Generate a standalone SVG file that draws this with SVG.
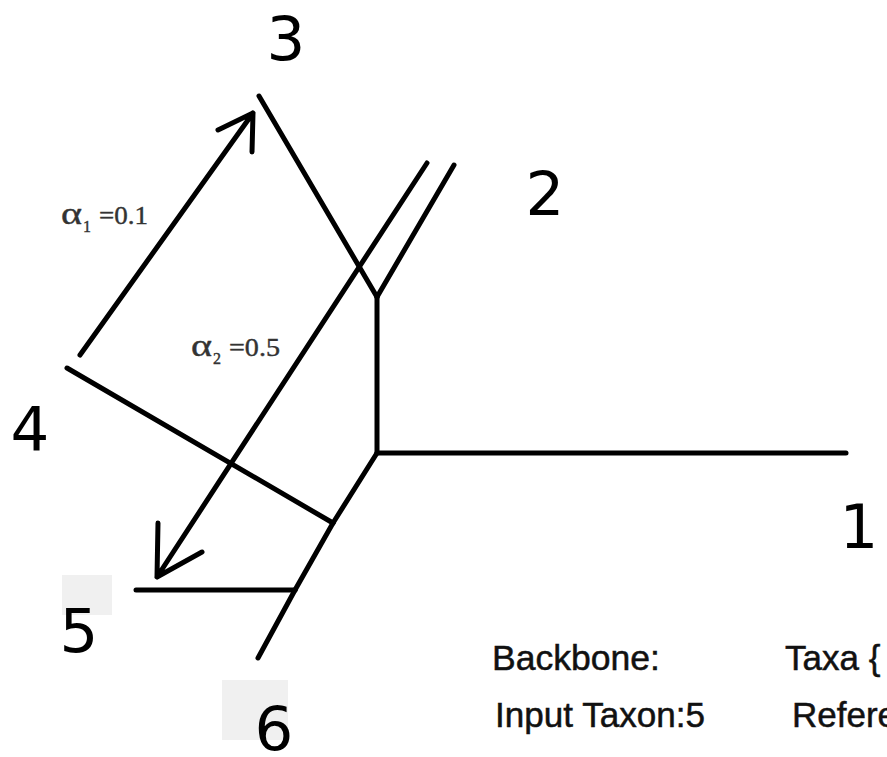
<svg xmlns="http://www.w3.org/2000/svg" width="887" height="757" viewBox="0 0 887 757">
  <style>
    .br { fill: none; stroke: #000; stroke-width: 5; stroke-linecap: round; stroke-linejoin: round; }
    .num { font-family: "DejaVu Sans", "Liberation Sans", sans-serif; font-size: 61px; fill: #000; text-anchor: middle; }
    .alpha { font-family: "Liberation Serif", "DejaVu Serif", serif; font-size: 25px; fill: #333; stroke: #333; stroke-width: 0.4; }
    .greek { font-size: 31px; }
    .sub { font-size: 16px; }
    .info { font-family: "Liberation Sans", Arial, sans-serif; font-size: 35px; fill: #111; stroke: #111; stroke-width: 0.5; }
    .bg { fill: #f0f0f0; }
  </style>
  <rect width="887" height="757" fill="#fff"/>
  <g id="backgrounds">
    <rect class="bg" x="62" y="575" width="50" height="40"/>
    <rect class="bg" x="222" y="680" width="66" height="60"/>
  </g>
  <g id="connectors">
    <path class="br" d="M259,96 L377,297"/>
    <path class="br" d="M454,165 L377,297"/>
    <path class="br" d="M377,297 L377,453"/>
    <path class="br" d="M377,453 L846,453"/>
    <path class="br" d="M377,453 L333,523"/>
    <path class="br" d="M67,368 L333,523"/>
    <path class="br" d="M333,523 L295,590"/>
    <path class="br" d="M136,590 L295,590"/>
    <path class="br" d="M295,590 L258,658"/>
    <path id="arrow1" class="br" d="M80,355 L253,113 M218,130 L253,113 L252,152"/>
    <path id="arrow2" class="br" d="M427,163 L157,577 M158,523 L157,577 L202,552"/>
  </g>
  <g id="node-3"><text class="num" x="286" y="60">3</text></g>
  <g id="node-2"><text class="num" x="545" y="215">2</text></g>
  <g id="node-4"><text class="num" x="30" y="450">4</text></g>
  <g id="node-5"><text class="num" x="79" y="652">5</text></g>
  <g id="node-6"><text class="num" x="274" y="750">6</text></g>
  <g id="node-1"><text class="num" x="859" y="548">1</text></g>
  <g id="label-alpha1"><text class="alpha" x="61" y="224"><tspan class="greek" textLength="21" lengthAdjust="spacingAndGlyphs">α</tspan><tspan class="sub" x="83" y="232">1</tspan><tspan x="99" y="224" textLength="49" lengthAdjust="spacingAndGlyphs">=0.1</tspan></text></g>
  <g id="label-alpha2"><text class="alpha" x="191" y="356"><tspan class="greek" textLength="21" lengthAdjust="spacingAndGlyphs">α</tspan><tspan class="sub" x="213" y="364">2</tspan><tspan x="229" y="356" textLength="51" lengthAdjust="spacingAndGlyphs">=0.5</tspan></text></g>
  <g id="info">
    <text class="info" x="492" y="670" textLength="168" lengthAdjust="spacingAndGlyphs">Backbone:</text>
    <text class="info" x="785" y="670">Taxa {</text>
    <text class="info" x="495" y="727" textLength="210" lengthAdjust="spacingAndGlyphs">Input Taxon:5</text>
    <text class="info" x="792" y="727">Refere</text>
  </g>
</svg>
